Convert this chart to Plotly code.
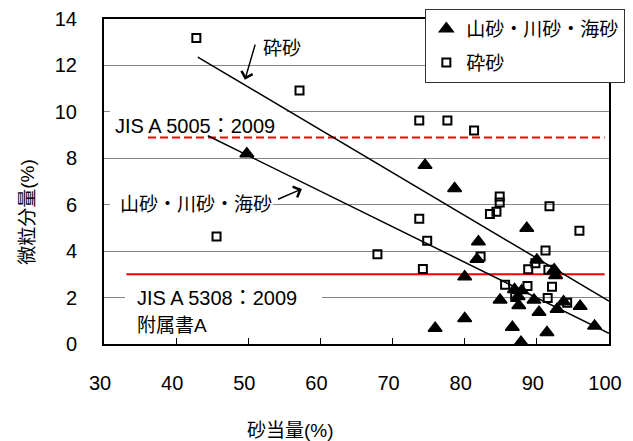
import plotly.graph_objects as go

# ---- data ----
# 山砂・川砂・海砂 (filled triangles)
sand_x = [49.8, 74.5, 78.6, 75.9, 80.0, 80.0, 81.7, 81.9, 84.9, 86.6, 87.8, 86.9, 87.9,
          87.4, 87.5, 88.6, 89.6, 90.0, 90.3, 91.4, 92.4, 92.6, 92.8, 93.7, 96.0, 98.0]
sand_y = [8.2, 7.7, 6.7, 0.68, 2.9, 1.1, 3.65, 4.41, 1.9, 0.72, 0.08, 2.35, 2.3,
          2.05, 1.66, 4.99, 1.9, 3.62, 1.37, 0.5, 3.2, 2.95, 1.5, 1.82, 1.63, 0.78]

# 砕砂 (open squares)
crushed_x = [42.8, 45.6, 57.1, 67.9, 73.7, 77.6, 81.3, 73.7, 74.8, 74.2, 82.2, 84.85, 84.85,
             84.4, 83.5, 91.75, 95.9, 91.2, 89.8, 88.8, 91.6, 85.6, 88.7, 92.1, 87.0, 91.5, 94.2]
crushed_y = [13.18, 4.63, 10.92, 3.87, 9.63, 9.63, 9.2, 5.4, 4.45, 3.23, 3.77, 6.35, 6.1,
             5.7, 5.6, 5.93, 4.88, 4.03, 3.48, 3.22, 3.2, 2.55, 2.5, 2.47, 2.02, 1.98, 1.78]

# trend lines
trend_crushed_x = [43.0, 100.0]
trend_crushed_y = [12.36, 1.85]
trend_sand_x = [44.4, 100.0]
trend_sand_y = [8.97, 0.46]

# limit lines
jis5005_x = [36.1, 99.4]
jis5005_y = [8.9, 8.9]
jis5308_x = [33.1, 99.4]
jis5308_y = [3.0, 3.0]

x_ticks = [30, 40, 50, 60, 70, 80, 90, 100]
y_ticks = [0, 2, 4, 6, 8, 10, 12, 14]

# label boxes that hide gridlines (x0, x1, y0, y1) in data units
label_boxes = [
    (30.8, 55.35, 9.5, 10.5),
    (30.8, 53.4, 5.6, 6.4),
    (32.9, 60.2, 1.5, 2.5),
]

FONT = "Liberation Sans, Arial, Noto Sans CJK JP"

fig = go.Figure()
fig.add_trace(go.Scatter(x=jis5308_x, y=jis5308_y, mode="lines",
                         line=dict(color="#FF0000", width=2),
                         showlegend=False, hoverinfo="skip"))
fig.add_trace(go.Scatter(x=jis5005_x, y=jis5005_y, mode="lines",
                         line=dict(color="#FF0000", width=2, dash="8px,4px"),
                         showlegend=False, hoverinfo="skip"))
fig.add_trace(go.Scatter(x=trend_crushed_x, y=trend_crushed_y, mode="lines",
                         line=dict(color="black", width=1.5),
                         showlegend=False, hoverinfo="skip"))
fig.add_trace(go.Scatter(x=trend_sand_x, y=trend_sand_y, mode="lines",
                         line=dict(color="black", width=1.5),
                         showlegend=False, hoverinfo="skip"))
fig.add_trace(go.Scatter(x=sand_x, y=sand_y, mode="markers", name="山砂・川砂・海砂",
                         legendgroup="a",
                         marker=dict(symbol="triangle-up", size=12, color="black",
                                     line=dict(width=1.5, color="black"))))
fig.add_trace(go.Scatter(x=crushed_x, y=crushed_y, mode="markers", name="砕砂",
                         legendgroup="b",
                         marker=dict(symbol="square-open", size=8, color="black",
                                     line=dict(width=2, color="black"))))

shapes = []
for (x0, x1, y0, y1) in label_boxes:
    shapes.append(dict(type="rect", xref="x", yref="y", x0=x0, x1=x1, y0=y0, y1=y1,
                       fillcolor="white", line=dict(width=0), layer="between"))

annotations = [
    dict(x=54.62, y=12.75, text="砕砂", showarrow=False, font=dict(size=19)),
    dict(x=49.53, y=11.38, ax=10.7, ay=-36.7, text="", showarrow=True,
         arrowhead=4, arrowsize=1.5, arrowwidth=1.5, arrowcolor="black"),
    dict(x=42.6, y=9.37, text="JIS A 5005：2009", showarrow=False, font=dict(size=20)),
    dict(x=42.8, y=5.99, text="山砂・川砂・海砂", showarrow=False, font=dict(size=19)),
    dict(x=57.43, y=6.68, ax=-25.3, ay=11, text="", showarrow=True,
         arrowhead=4, arrowsize=1.5, arrowwidth=1.5, arrowcolor="black"),
    dict(x=34.27, y=1.97, xanchor="left", text="JIS A 5308：2009", showarrow=False,
         font=dict(size=20)),
    dict(x=34.27, y=0.78, xanchor="left", text="附属書A", showarrow=False,
         font=dict(size=19)),
    dict(xref="paper", yref="paper", x=-0.153, y=0.406, xanchor="center",
         yanchor="middle", text="微粒分量(%)", textangle=-90, showarrow=False,
         font=dict(size=19, color="black")),
    dict(xref="paper", yref="paper", x=0.370, y=-0.265, xanchor="center",
         yanchor="middle", text="砂当量(%)", showarrow=False,
         font=dict(size=19, color="black")),
]

fig.update_layout(
    width=633, height=441,
    margin=dict(l=104, r=24, t=19, b=97, autoexpand=False),
    paper_bgcolor="white", plot_bgcolor="white",
    font=dict(family=FONT, size=19, color="black"),
    xaxis=dict(range=[30, 100], tickvals=x_ticks, showgrid=False, zeroline=False,
               showline=True, mirror=True, linecolor="black", linewidth=2,
               ticks="inside", ticklen=6, tickcolor="black", tickwidth=1,
               ticklabelstandoff=20, ticklabelshift=-4, tickfont=dict(size=20),
               automargin=False, fixedrange=True),
    yaxis=dict(range=[0, 14], tickvals=y_ticks, showgrid=True, gridcolor="#868686",
               gridwidth=1, zeroline=False, showline=True, mirror=True,
               linecolor="black", linewidth=2, ticks="", ticklabelstandoff=21,
               tickfont=dict(size=20), automargin=False, fixedrange=True),
    legend=dict(xref="container", yref="container", x=0.9879, xanchor="right",
                y=0.9796, yanchor="top", bgcolor="white",
                bordercolor="#333333", borderwidth=1, tracegroupgap=6,
                font=dict(size=19)),
    shapes=shapes,
    annotations=annotations,
    showlegend=True,
)

fig.write_html("out.html")
